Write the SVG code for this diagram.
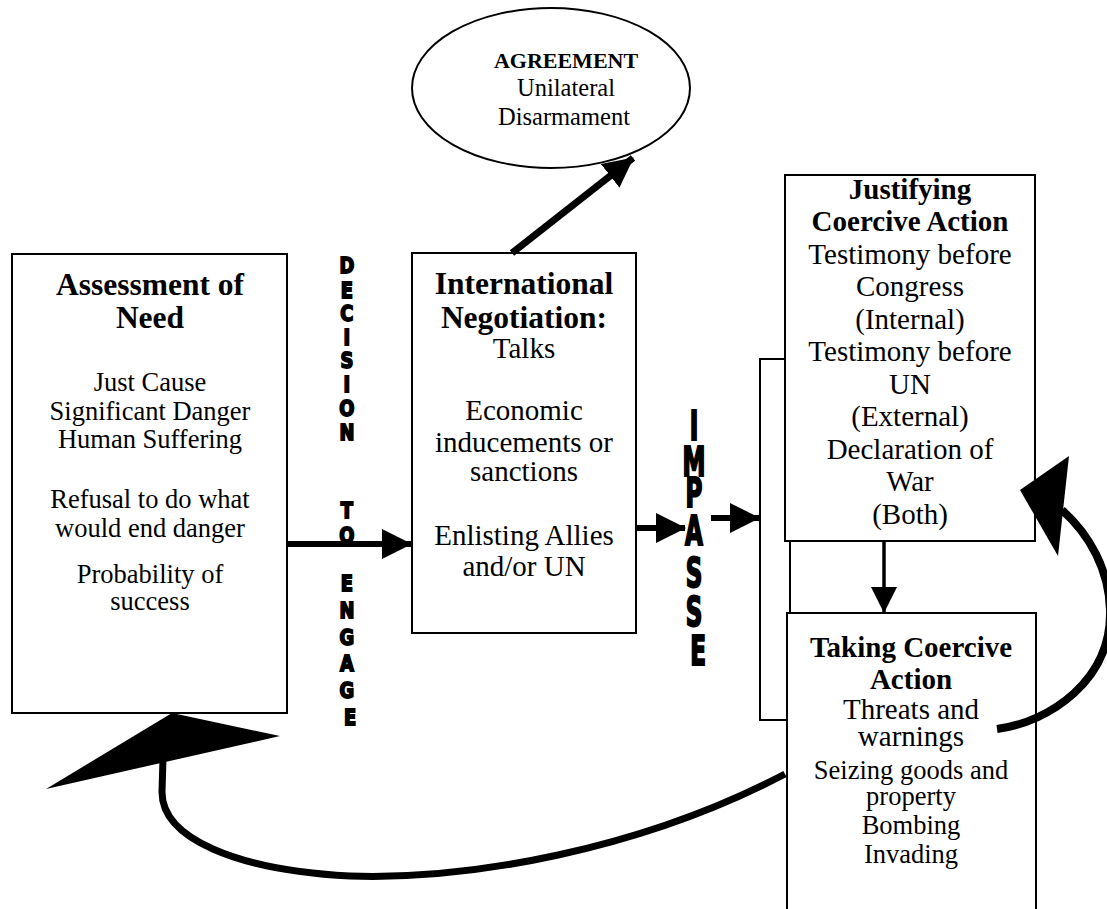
<svg xmlns="http://www.w3.org/2000/svg" width="1107" height="909" viewBox="0 0 1107 909">
  <style>
    .box{fill:#fff;stroke:#000;stroke-width:2}
    .h{font-family:"Liberation Serif","Times New Roman",serif;font-weight:bold;text-anchor:middle;fill:#000}
    .t{font-family:"Liberation Serif","Times New Roman",serif;text-anchor:middle;fill:#000}
    .v{font-family:"DejaVu Sans",sans-serif;font-weight:bold;text-anchor:middle;fill:#000;stroke:#000;stroke-width:1.8;font-size:21px}
    .w{font-family:"DejaVu Sans Condensed","DejaVu Sans",sans-serif;font-weight:bold;text-anchor:middle;fill:#000;stroke:#000;stroke-width:2;font-size:40px}
    .ln{fill:none;stroke:#000}
  </style>
  <defs>
    <marker id="ah" viewBox="0 0 30 30" refX="29" refY="15" markerWidth="30" markerHeight="30" markerUnits="userSpaceOnUse" orient="auto">
      <path d="M0,0 L30,15 L0,30 Z" fill="#000"/>
    </marker>
    <marker id="ahs" viewBox="0 0 26 26" refX="25" refY="13" markerWidth="26" markerHeight="26" markerUnits="userSpaceOnUse" orient="auto">
      <path d="M0,0 L26,13 L0,26 Z" fill="#000"/>
    </marker>
  </defs>

  <!-- back frame behind the two coercive-action boxes -->
  <rect id="frame" class="box" x="760" y="359" width="30" height="361"/>

  <g id="agreement">
    <ellipse class="box" cx="551" cy="88" rx="139" ry="80"/>
    <text class="h" x="566" y="68" font-size="22">AGREEMENT</text>
    <text class="t" x="566" y="96" font-size="24.5">Unilateral</text>
    <text class="t" x="564" y="125" font-size="24.5">Disarmament</text>
  </g>

  <g id="assessment">
    <rect class="box" x="12" y="254" width="275" height="459"/>
    <text class="h" x="150" y="295" font-size="31.5">Assessment of</text>
    <text class="h" x="150" y="328" font-size="31.5">Need</text>
    <text class="t" x="150" y="391" font-size="26.5">Just Cause</text>
    <text class="t" x="150" y="420" font-size="26.5">Significant Danger</text>
    <text class="t" x="150" y="448" font-size="26.5">Human Suffering</text>
    <text class="t" x="150" y="508" font-size="26.5">Refusal to do what</text>
    <text class="t" x="150" y="537" font-size="26.5">would end danger</text>
    <text class="t" x="150" y="583" font-size="26.5">Probability of</text>
    <text class="t" x="150" y="610" font-size="26.5">success</text>
  </g>

  <g id="negotiation">
    <rect class="box" x="412" y="253" width="224" height="380"/>
    <text class="h" x="524" y="294" font-size="31.5">International</text>
    <text class="h" x="524" y="328" font-size="31.5">Negotiation:</text>
    <text class="t" x="524" y="358" font-size="29">Talks</text>
    <text class="t" x="524" y="420" font-size="29">Economic</text>
    <text class="t" x="524" y="452" font-size="29">inducements or</text>
    <text class="t" x="524" y="481" font-size="29">sanctions</text>
    <text class="t" x="524" y="545" font-size="29">Enlisting Allies</text>
    <text class="t" x="524" y="576" font-size="29">and/or UN</text>
  </g>

  <g id="justifying">
    <rect class="box" x="785" y="175" width="250" height="366"/>
    <text class="h" x="910" y="199" font-size="29">Justifying</text>
    <text class="h" x="910" y="231" font-size="29">Coercive Action</text>
    <text class="t" x="910" y="264" font-size="29">Testimony before</text>
    <text class="t" x="910" y="296" font-size="29">Congress</text>
    <text class="t" x="910" y="329" font-size="29">(Internal)</text>
    <text class="t" x="910" y="361" font-size="29">Testimony before</text>
    <text class="t" x="910" y="394" font-size="29">UN</text>
    <text class="t" x="910" y="426" font-size="29">(External)</text>
    <text class="t" x="910" y="459" font-size="29">Declaration of</text>
    <text class="t" x="910" y="491" font-size="29">War</text>
    <text class="t" x="910" y="524" font-size="29">(Both)</text>
  </g>

  <g id="taking">
    <rect class="box" x="787" y="613" width="249" height="320"/>
    <text class="h" x="911" y="657" font-size="29">Taking Coercive</text>
    <text class="h" x="911" y="689" font-size="29">Action</text>
    <text class="t" x="911" y="719" font-size="29">Threats and</text>
    <text class="t" x="911" y="746" font-size="29">warnings</text>
    <text class="t" x="911" y="779" font-size="26.5">Seizing goods and</text>
    <text class="t" x="911" y="805" font-size="26.5">property</text>
    <text class="t" x="911" y="834" font-size="26.5">Bombing</text>
    <text class="t" x="911" y="863" font-size="26.5">Invading</text>
  </g>

  <!-- stacked caption between assessment and negotiation -->
  <g id="decision-to-engage" transform="translate(350 0) scale(0.85 1)">
    <text class="v">
      <tspan x="0" y="273">D</tspan>
      <tspan x="0" y="298">E</tspan>
      <tspan x="0" y="321">C</tspan>
      <tspan x="0" y="345">I</tspan>
      <tspan x="0" y="368">S</tspan>
      <tspan x="0" y="392">I</tspan>
      <tspan x="0" y="416">O</tspan>
      <tspan x="0" y="440">N</tspan>
      <tspan x="0" y="518">T</tspan>
      <tspan x="0" y="543">O</tspan>
      <tspan x="0" y="591">E</tspan>
      <tspan x="0" y="618">N</tspan>
      <tspan x="0" y="645">G</tspan>
      <tspan x="0" y="671">A</tspan>
      <tspan x="0" y="698">G</tspan>
      <tspan x="0" y="725">E</tspan>
    </text>
  </g>

  <!-- stacked caption between negotiation and the coercive boxes -->
  <g id="impasse" transform="translate(698 0) scale(0.64 1)">
    <text class="w">
      <tspan x="0" y="440">I</tspan>
      <tspan x="0" y="476">M</tspan>
      <tspan x="0" y="507">P</tspan>
      <tspan x="0" y="545">A</tspan>
      <tspan x="0" y="587">S</tspan>
      <tspan x="0" y="626">S</tspan>
      <tspan x="0" y="665">E</tspan>
    </text>
  </g>

  <g id="connectors">
    <line class="ln" x1="287" y1="544" x2="411" y2="544" stroke-width="6" marker-end="url(#ah)"/>
    <line class="ln" x1="512" y1="253" x2="633" y2="158" stroke-width="7" marker-end="url(#ah)"/>
    <line class="ln" x1="636" y1="528" x2="685" y2="528" stroke-width="6" marker-end="url(#ah)"/>
    <line class="ln" x1="711" y1="518" x2="759" y2="518" stroke-width="6" marker-end="url(#ah)"/>
    <line class="ln" x1="884" y1="541" x2="884" y2="612" stroke-width="3.5" marker-end="url(#ahs)"/>
    <!-- loop back from taking action to justifying -->
    <path class="ln" d="M997,729 C1050,722 1112,680 1110,610 C1109,570 1090,535 1062,510" stroke-width="8"/>
    <polygon points="1020,490 1069,456 1058,556" fill="#000"/>
    <!-- loop back from taking action to assessment -->
    <path class="ln" d="M785,774 C640,850 470,880 350,876 C235,870 162,838 162,792 L163,758" stroke-width="7"/>
    <polygon points="172,713 46,789 280,736" fill="#000"/>
  </g>
</svg>
